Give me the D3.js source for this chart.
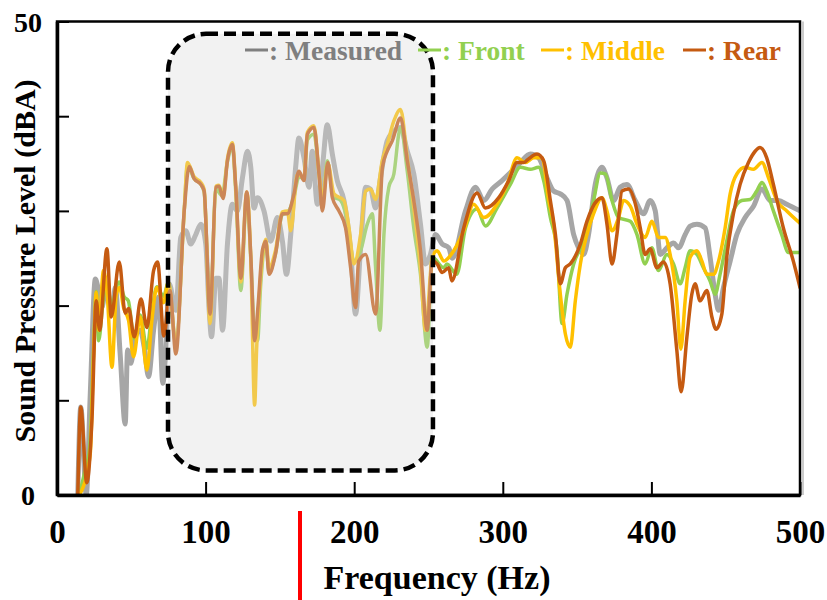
<!DOCTYPE html>
<html>
<head>
<meta charset="utf-8">
<script src="https://cdn.jsdelivr.net/npm/d3@7"></script>
<style>
  body { margin: 0; background: #fff; }
  text { font-family: "Liberation Serif", "Times New Roman", serif; font-weight: bold; }
</style>
</head>
<body>
<div id="chart"></div>
<script>
// [frequency (Hz), level (dBA)]
var measured = [[14,0],[16,9.3],[19.7,0],[22.4,10.7],[25.8,22.8],[27.6,21.9],[30.2,19.8],[32.5,21.4],[34.7,20.5],[37,19.1],[39.2,21.9],[42.5,14.9],[45.9,7.5],[47.5,15.3],[49.7,13.9],[52.6,16.7],[56,17.4],[58.7,15.6],[61.6,12.5],[65,17.4],[68.3,20.9],[71.2,11.8],[72.8,14.2],[75.5,22.3],[80,19.5],[83.3,27.2],[86.7,27.9],[90,26.5],[93.4,27.5],[96.8,28.6],[100.1,26.5],[102.4,19.5],[104,16.7],[106.9,22.9],[109,22.9],[111.4,17.4],[114.7,26.5],[118,30.7],[121.4,30],[124.8,33.5],[128.2,36.3],[130.4,34.6],[132.6,30.3],[134.9,31.4],[139.3,30],[143.8,26.8],[148.3,29.3],[151.7,26.8],[154.4,23.3],[157.3,27.5],[160.6,34.6],[162.8,37.7],[166.2,35.6],[169.6,32.5],[171.8,36.3],[175.2,30.7],[178.6,34.6],[181.9,39.1],[185.3,36],[188.6,33.2],[193.1,31.1],[197.6,25.8],[200.9,19.1],[204.3,26.1],[207.7,32.5],[211,32.3],[214.4,30.3],[217.7,33.5],[222.2,37.4],[226.7,38.4],[231.2,38.8],[235.7,36.3],[240.1,33.9],[244.6,28.6],[248,24.4],[251.3,25.4],[254.7,27.5],[259.2,26.5],[263.6,26.1],[266,25],[274.9,30],[281.6,32.5],[287.2,31.1],[292.8,32.3],[299.5,33.2],[306.2,34.2],[311.8,35.1],[318.5,36],[324.1,35.6],[329.7,33.5],[334.2,32.1],[338.7,31.8],[343.2,31.1],[347.7,27.5],[351,26.1],[354.4,25.4],[357.7,27.5],[362.2,32.8],[366.7,34.6],[370.1,33.5],[374.5,31.1],[379,32.5],[383.5,32.8],[389.1,31.1],[394.7,29.7],[399.2,31.1],[402.6,30],[406,25.4],[410.4,26.1],[414.9,26.6],[418.3,26.1],[422.7,27.5],[426.1,28.4],[430.6,28.6],[436.2,28.2],[439.5,25.1],[442.9,21.2],[445.2,19.5],[448.5,21.9],[453,24.7],[457.5,27.5],[463.1,29.3],[468.7,30.5],[474.4,32.3],[480,31.1],[485.6,31.1],[491.1,30.7],[500,30]];

var front = [[15,0],[18,2],[22,5],[24.6,15],[26.4,21.5],[28,16.3],[31.3,20.9],[33.6,22],[37,20],[40,22],[42,22.5],[45,21],[48,20.5],[52,16.5],[56,19],[60.5,15.5],[64,19.5],[67.2,22],[71.7,21],[75,22.5],[80,16],[85.6,30],[87.8,34.8],[92.3,33.4],[96.8,32.8],[99,32],[103,19],[106.9,32.3],[111,31.6],[114.7,35.2],[118,36.8],[120.3,32],[123.7,21.6],[127.7,31.8],[130.4,25],[133,17],[135,16.3],[137,22],[140.5,26.8],[142.7,23.5],[147,25.5],[151.7,29.6],[155,29.8],[159.5,31.5],[162.8,33.6],[166.2,33.4],[168.5,37.5],[172.9,38.1],[176.3,34],[178.6,31],[181.9,35.3],[186,31.5],[190.9,31.1],[195.4,28.9],[199.8,24.7],[204.3,25.8],[208.8,28.6],[212.2,29.7],[214.4,24],[217.3,17.4],[220,27.5],[223.3,32.5],[226.7,33.9],[230,38.1],[231.2,38.8],[235.7,34.2],[240.1,28.2],[244.6,23.3],[249.1,15.6],[252.5,25.1],[260.3,24],[262.4,24.4],[269,23.3],[274.9,28.2],[282.7,30.2],[288.3,28.4],[296.1,30.3],[305.1,32.8],[311.8,34.6],[318.5,34.4],[324.1,34.6],[327.5,33.2],[332,29.3],[336.5,25.8],[339.9,18.1],[343.2,21.2],[347.7,24.4],[354.4,26.8],[361.1,31.1],[365.6,34],[369,33.9],[373.5,31.1],[377.9,29.3],[385.8,28.9],[390.3,27.5],[395.8,24.4],[400.3,26.1],[404.8,23.7],[410.4,25.4],[414.9,24.4],[419.4,22.3],[422.7,24],[426.1,25.8],[430.6,25.4],[435,24],[439.5,22.6],[442.9,21.2],[446.2,23.3],[450.7,26.8],[455.2,30],[460.8,31.1],[466.4,31.2],[470.9,32.1],[474.4,33],[477.6,32.1],[482.1,30],[487.7,27.5],[492.2,25.6],[500,25.6]];

var middle = [[15,0],[18,1],[22.4,4.4],[24.6,14.9],[26.4,21.4],[28,17.4],[31.3,23.7],[33.6,21.6],[37,13.5],[39.9,21.2],[42.1,21.9],[44.8,19.8],[48.2,18.4],[51.5,14.6],[56,18.8],[60.5,13.2],[63.8,18.4],[67.2,21.9],[71.7,20.3],[75,22.5],[80,16],[85.6,30],[87.8,35.1],[92.3,33.6],[96.8,33],[99,32.3],[103,18.1],[106.9,32.6],[109,32.7],[111.8,31.5],[114.7,35.5],[118,37.2],[120.3,32.5],[123.7,22.5],[127.7,32],[130.4,25],[133,9.5],[134.3,15.3],[137,22.9],[140.5,27],[142.7,24],[147,25.8],[151.7,29.9],[155,30],[157.3,27.9],[161.8,33.9],[166.2,33.5],[168.5,38.3],[172.9,39],[176.3,34],[178.6,31.1],[182.3,35],[186.4,31.8],[193.1,31.1],[196.5,28.2],[199.8,24.4],[204.3,27.5],[207.7,32.1],[211,32.3],[214.4,31.2],[218.9,35.3],[222.2,37],[226.7,39.5],[231.2,40.7],[235.7,35.6],[240.1,30.3],[244.6,24],[248,17.4],[252.5,25.1],[255.8,25.8],[260.3,24.7],[264.8,25.3],[273.7,27.9],[280.4,30.7],[287.2,29.3],[296.1,30.7],[302.9,32.8],[309.6,35.6],[315.2,35.1],[320.8,35.6],[326.4,35.6],[330.9,31.1],[334.2,28.6],[338.7,21.2],[342.1,17],[345.4,15.6],[348.8,20.5],[352.2,24.4],[356.6,27.5],[361.1,29.7],[366.7,31.4],[370.1,30],[373.5,27.9],[377.9,29.3],[381.3,31.1],[385.8,30.5],[390.3,28.6],[395.8,27.2],[400.3,28.9],[404.8,27.2],[409.3,27.2],[412.6,25.4],[417.1,20.5],[419.8,15.4],[422.7,20.5],[426.1,25.1],[430.6,25.8],[434,24.7],[437.3,23.3],[441.8,23.3],[445.2,24.7],[449.6,28.2],[453,31.8],[457.5,33.9],[463.1,34.6],[468.7,34.4],[474.4,35.1],[478.8,33.5],[484.4,31.1],[491.1,30],[500,28.7]];

var rear = [[14,0],[16,9.3],[20,1.3],[23.5,7.9],[26.4,20.5],[28.7,17.4],[33.6,26],[36.5,18.8],[41.9,24.6],[45.9,19.2],[48.2,19.7],[52,16.7],[56.5,20.7],[60.5,17.7],[65,23.7],[67.7,24.6],[71.9,16.8],[76,21.6],[80,14.9],[85.6,30],[89,34.7],[92.3,33.4],[96.8,32.8],[99,32.1],[103,19.1],[106.9,32.5],[109,32.6],[111.8,31.3],[114.7,35.3],[118,37],[120.3,32.5],[123.7,22.9],[127.7,32],[130.4,25.3],[133,16.3],[135.3,20],[138.2,25.8],[140.5,26.8],[142.7,23.3],[147,25.4],[151.7,29.7],[155,29.7],[159.5,31.8],[162.8,34.2],[166.2,33.2],[168.5,38.1],[172.9,38.8],[176.3,33.9],[178.6,30],[182.3,35.1],[185.3,31.4],[189.7,30],[194.2,28.2],[197.6,24],[200.9,19.8],[203,24.7],[207.7,25.4],[214.4,19.1],[219,34.6],[222.2,36.3],[225.6,37.4],[231.2,39.8],[235.7,35.3],[240.1,31.1],[244.6,25.8],[249.1,17.4],[252.5,24.7],[255.8,24.4],[259.2,23.5],[263.6,24],[265.7,22.6],[273.7,28.2],[282.7,31.9],[288.3,30.3],[297.3,31.4],[304,33.2],[309.6,35.1],[314,35.1],[316.7,35.4],[323,36],[327.5,35.3],[332,31.1],[335.4,27.5],[338.7,22.3],[342.1,24],[345.4,24.4],[352.2,26.5],[356.6,28.9],[363.4,31.1],[366.7,31.4],[370.1,28.6],[373.5,24.4],[376.8,27.5],[380.2,32.1],[384.6,32.3],[390.3,30],[392.5,28.2],[395.8,25.4],[399.2,26],[403.7,24],[408.1,24.6],[412.6,22.3],[417.1,15.3],[420,10.9],[423.9,16.7],[427.2,21.2],[429.4,22.3],[432.8,20.5],[437.3,21.6],[440.7,18.8],[443.5,17.5],[447.4,19.1],[450.7,25.1],[455.2,29.7],[459.7,32.8],[465.3,35.1],[469.8,36.3],[473.1,36.7],[477.6,35.6],[482.1,32.8],[488.8,28.2],[495.5,24.7],[500,21.9]];

var seriesNames = ["Measured", "Front", "Middle", "Rear"];
var seriesColors = ["#a6a6a6", "#92d050", "#ffc000", "#c55a11"];
var legendColors = ["#7f7f7f", "#92d050", "#ffc000", "#c55a11"];
var xTicks = [0, 100, 200, 300, 400, 500];
var yTicks = [0, 10, 20, 30, 40, 50];
var yLabels = {0: "0", 50: "50"};
// highlighted band (Hz, dBA)
var boxHz = [74.7, 253];
var boxDb = [2.6, 48.7];

var W = 827, H = 600;
var margin = {top: 21.5, right: 27, bottom: 105, left: 57}
    , width = W - margin.left - margin.right
    , height = H - margin.top - margin.bottom;

var svg = d3.select("#chart").append("svg")
    .attr("width", W)
    .attr("height", H);

var g = svg.append("g")
    .attr("transform", "translate(" + margin.left + "," + margin.top + ")");

var x = d3.scaleLinear().domain([0, 500]).range([0, width]);
var y = d3.scaleLinear().domain([0, 50]).range([height, 0]);

g.append("clipPath").attr("id", "plotClip")
  .append("rect")
    .attr("width", width)
    .attr("height", height);

var line = d3.line()
    .x(function (d) { return x(d[0]); })
    .y(function (d) { return y(d[1]); })
    .curve(d3.curveMonotoneX);

var allSeries = [measured, front, middle, rear];
var widths = [5, 3.5, 3.5, 3.5];

g.append("g").attr("clip-path", "url(#plotClip)")
  .selectAll("path")
  .data(allSeries)
  .enter()
  .append("path")
    .attr("d", line)
    .attr("fill", "none")
    .attr("stroke", function (d, i) { return seriesColors[i]; })
    .attr("stroke-width", function (d, i) { return widths[i]; })
    .attr("stroke-linejoin", "round")
    .attr("stroke-linecap", "round");

// translucent highlight box over the lines
g.append("rect")
    .attr("x", x(boxHz[0]))
    .attr("y", y(boxDb[1]))
    .attr("width", x(boxHz[1]) - x(boxHz[0]))
    .attr("height", y(boxDb[0]) - y(boxDb[1]))
    .attr("rx", 38).attr("ry", 38)
    .attr("fill", "#d9d9d9")
    .attr("fill-opacity", 0.35)
    .attr("stroke", "#000")
    .attr("stroke-width", 4.5)
    .attr("stroke-dasharray", "12,6");

// frame (top and right)
g.append("rect")
    .attr("width", width)
    .attr("height", height)
    .attr("fill", "none")
    .attr("stroke", "#000")
    .attr("stroke-width", 2.5);
g.append("line")
    .attr("x1", width + 3).attr("x2", width + 3)
    .attr("y1", 0).attr("y2", height)
    .attr("stroke", "#bbb").attr("stroke-width", 1.5);

// axes, ticks pointing inwards
var xAxis = g.append("g")
    .attr("transform", "translate(0," + height + ")")
    .call(d3.axisBottom(x).tickValues(xTicks).tickSizeInner(-13).tickSizeOuter(0));
xAxis.select(".domain").attr("stroke-width", 3.5);
xAxis.selectAll(".tick line").attr("stroke-width", 2);
xAxis.selectAll("text")
    .attr("y", 48)
    .attr("dy", 0)
    .style("font-size", "33px")
    .attr("fill", "#000");

var yAxis = g.append("g")
    .call(d3.axisLeft(y).tickValues(yTicks).tickSizeInner(-12).tickSizeOuter(0)
        .tickFormat(function (d) { return yLabels[d] || ""; }));
yAxis.select(".domain").attr("stroke-width", 3.5);
yAxis.selectAll(".tick line").attr("stroke-width", 2);
yAxis.selectAll("text")
    .attr("x", -29)
    .attr("dy", "0.35em")
    .attr("text-anchor", "middle")
    .style("font-size", "28px")
    .attr("fill", "#000");

// axis titles
svg.append("text")
    .attr("x", 437)
    .attr("y", 589)
    .attr("text-anchor", "middle")
    .style("font-size", "34px")
    .text("Frequency (Hz)");

svg.append("text")
    .attr("transform", "translate(35,261) rotate(-90)")
    .attr("text-anchor", "middle")
    .style("font-size", "30px")
    .text("Sound Pressure Level (dBA)");

// red marker under the axis
svg.append("rect")
    .attr("x", 298)
    .attr("y", 511)
    .attr("width", 4)
    .attr("height", 89)
    .attr("fill", "#ff0000");

// legend
var legendX = [245, 418, 541, 683];
var legend = svg.append("g");
seriesNames.forEach(function (name, i) {
    legend.append("line")
        .attr("x1", legendX[i]).attr("x2", legendX[i] + 23)
        .attr("y1", 50).attr("y2", 50)
        .attr("stroke", i === 0 ? "#808080" : seriesColors[i])
        .attr("stroke-width", 3);
    legend.append("text")
        .attr("x", legendX[i] + 24)
        .attr("y", 59.5)
        .attr("fill", legendColors[i])
        .style("font-size", "27.5px")
        .text(": " + name);
});
</script>
</body>
</html>
